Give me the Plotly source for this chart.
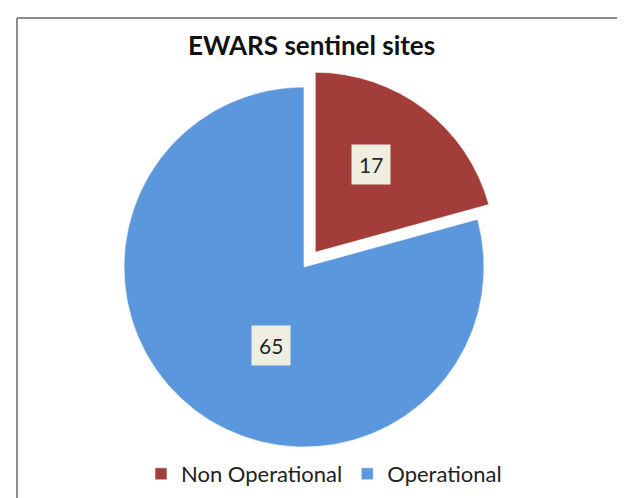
import math
import plotly.graph_objects as go

# ---- data ----
labels = ["Non Operational", "Operational"]
values = [17, 65]
title_text = "EWARS sentinel sites"

# ---- style ----
W, H = 625, 498
colors = ["#A33D39", "#5B97DD"]
pulls = [0.103, 0.0]
label_bg = "#EFEFE1"
font_family = "Lato, 'Open Sans', sans-serif"
# pie box in pixels (square)
cx_px, cy_px, r_px = 296, 259, 180
box = r_px * (1 + max(pulls))
dom_x = [(cx_px - box) / W, (cx_px + box) / W]
dom_y = [1 - (cy_px + box) / H, 1 - (cy_px - box) / H]
# label placement (fraction of radius, angle shift in degrees) per slice
label_rfrac = [0.576, 0.475]
label_shift = [-5, -14.6]

fig = go.Figure(go.Pie(
    labels=labels,
    values=values,
    sort=False,
    direction="clockwise",
    rotation=0,
    pull=pulls,
    textinfo="none",
    hoverinfo="label+value",
    marker=dict(colors=colors, line=dict(color="rgba(255,255,255,0.6)", width=1)),
    domain=dict(x=dom_x, y=dom_y),
))

# data labels computed from slice angles
total = sum(values)
annotations = []
start = 0.0
for i, v in enumerate(values):
    span = 360.0 * v / total
    mid = start + span / 2
    a = math.radians(mid)
    vx = cx_px + pulls[i] * r_px * math.sin(a)
    vy = cy_px - pulls[i] * r_px * math.cos(a)
    b = math.radians(mid + label_shift[i])
    lx = vx + label_rfrac[i] * r_px * math.sin(b)
    ly = vy - label_rfrac[i] * r_px * math.cos(b)
    annotations.append(dict(
        x=lx / W, y=1 - ly / H, xref="paper", yref="paper",
        text=str(v), showarrow=False,
        font=dict(family=font_family, size=21, color="#262626"),
        bgcolor=label_bg, borderpad=7,
        xanchor="center", yanchor="middle",
    ))
    start += span

annotations.append(dict(
    x=303 / W, y=1 - 37 / H, xref="paper", yref="paper",
    text="<b>" + title_text + "</b>", showarrow=False,
    font=dict(family=font_family, size=26, color="#111111"),
    xanchor="center", yanchor="middle",
))

fig.update_layout(
    width=W, height=H,
    margin=dict(l=0, r=0, t=0, b=0),
    paper_bgcolor="white",
    plot_bgcolor="white",
    showlegend=True,
    legend=dict(
        orientation="h", x=316 / W, y=1 - 466 / H,
        xanchor="center", yanchor="middle",
        font=dict(family=font_family, size=22, color="#222222"),
        itemwidth=30, traceorder="normal",
    ),
    annotations=annotations,
    shapes=[
        dict(type="line", xref="paper", yref="paper",
             x0=9 / W, x1=1, y0=1 - 10 / H, y1=1 - 10 / H,
             line=dict(color="#8C8C8C", width=2)),
        dict(type="line", xref="paper", yref="paper",
             x0=9 / W, x1=9 / W, y0=0, y1=1 - 10 / H,
             line=dict(color="#8C8C8C", width=2)),
    ],
)

fig.write_html("out.html")
